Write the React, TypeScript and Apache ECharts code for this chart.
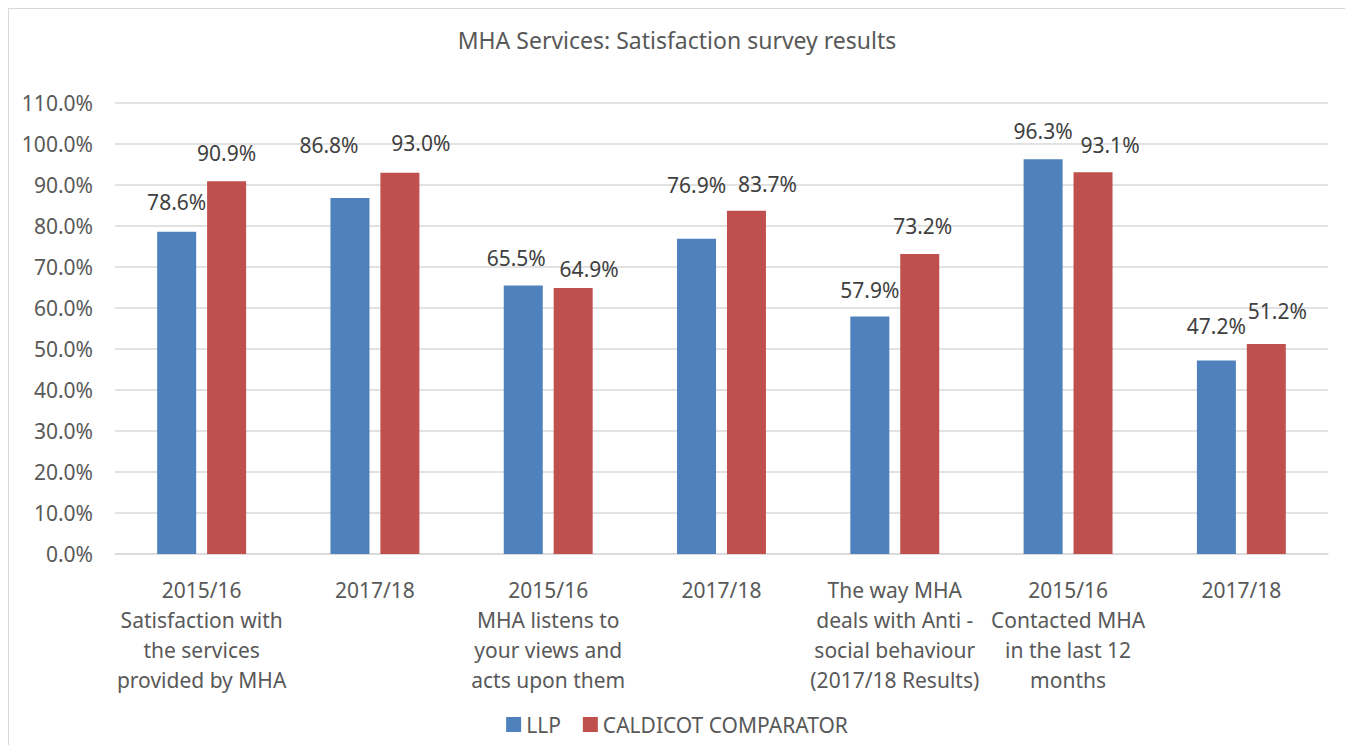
import React, { useEffect, useRef } from "react";
import * as echarts from "echarts";

const categories = [
  "2015/16\nSatisfaction with\nthe services\nprovided by MHA",
  "2017/18",
  "2015/16\nMHA listens to\nyour views and\nacts upon them",
  "2017/18",
  "The way MHA\ndeals with Anti -\nsocial behaviour\n(2017/18 Results)",
  "2015/16\nContacted MHA\nin the last 12\nmonths",
  "2017/18",
];
const llp = [78.6, 86.8, 65.5, 76.9, 57.9, 96.3, 47.2];
const caldicot = [90.9, 93.0, 64.9, 83.7, 73.2, 93.1, 51.2];
const seriesNames = ["LLP", "CALDICOT COMPARATOR"];
const yTicks = { min: 0, max: 110, interval: 10 };

// label offsets [dx, dy] (style only)
const llpLabelOffsets = [[0, -14], [-21, -38], [-7, -12], [0, -38], [0, -11], [0, -13], [0, -19]];
const calLabelOffsets = [[0, -13], [21, -14], [16, -3], [21, -11], [3, -12], [17, -12], [11, -18]];

const FONT = "'Noto Sans', sans-serif";
const TXT = "#595959";

export default function App() {
  const ref = useRef<HTMLDivElement>(null);
  useEffect(() => {
    const chart = echarts.init(ref.current!, null, { renderer: "svg" });
    const mk = (vals: number[], offs: number[][]) =>
      vals.map((v, i) => ({ value: v, label: { offset: offs[i] } }));
    const labelStyle = {
      show: true,
      position: "top" as const,
      distance: 5,
      color: "#404040",
      fontSize: 21,
      fontFamily: FONT,
      formatter: (p: any) => p.value.toFixed(1) + "%",
    };
    chart.setOption({
      animation: false,
      textStyle: { fontFamily: FONT },
      title: {
        text: "MHA Services: Satisfaction survey results",
        left: "center",
        top: 14,
        textStyle: { fontSize: 23, fontWeight: "normal", color: TXT, fontFamily: FONT },
      },
      legend: {
        bottom: 7,
        left: "center",
        itemWidth: 15,
        itemHeight: 15,
        itemGap: 22,
        icon: "rect",
        textStyle: { fontSize: 21, color: TXT, fontFamily: FONT },
        data: seriesNames,
      },
      grid: { left: 106, right: 17, top: 94, bottom: 193 },
      xAxis: {
        type: "category",
        data: categories,
        axisLine: { lineStyle: { color: "#d9d9d9", width: 1.5 } },
        axisTick: { show: false },
        axisLabel: {
          color: TXT,
          fontSize: 21,
          lineHeight: 30,
          margin: 21,
          interval: 0,
          fontFamily: FONT,
        },
      },
      yAxis: {
        type: "value",
        min: yTicks.min,
        max: yTicks.max,
        interval: yTicks.interval,
        axisLine: { show: false },
        axisTick: { show: false },
        splitLine: { lineStyle: { color: "#d9d9d9", width: 1.5 } },
        axisLabel: {
          color: TXT,
          fontSize: 21,
          margin: 22,
          fontFamily: FONT,
          formatter: (v: number) => v.toFixed(1) + "%",
        },
      },
      series: [
        {
          name: seriesNames[0],
          type: "bar",
          barWidth: 39,
          barGap: "28%",
          itemStyle: { color: "#4F81BD" },
          label: labelStyle,
          data: mk(llp, llpLabelOffsets),
        },
        {
          name: seriesNames[1],
          type: "bar",
          barWidth: 39,
          barGap: "28%",
          itemStyle: { color: "#C0504D" },
          label: labelStyle,
          data: mk(caldicot, calLabelOffsets),
        },
      ],
    });
    return () => chart.dispose();
  }, []);
  return (
    <div
      style={{
        width: 1336,
        height: 738,
        border: "1.5px solid #d9d9d9",
        background: "#fff",
      }}
    >
      <div ref={ref} style={{ width: 1336, height: 738 }} />
    </div>
  );
}
